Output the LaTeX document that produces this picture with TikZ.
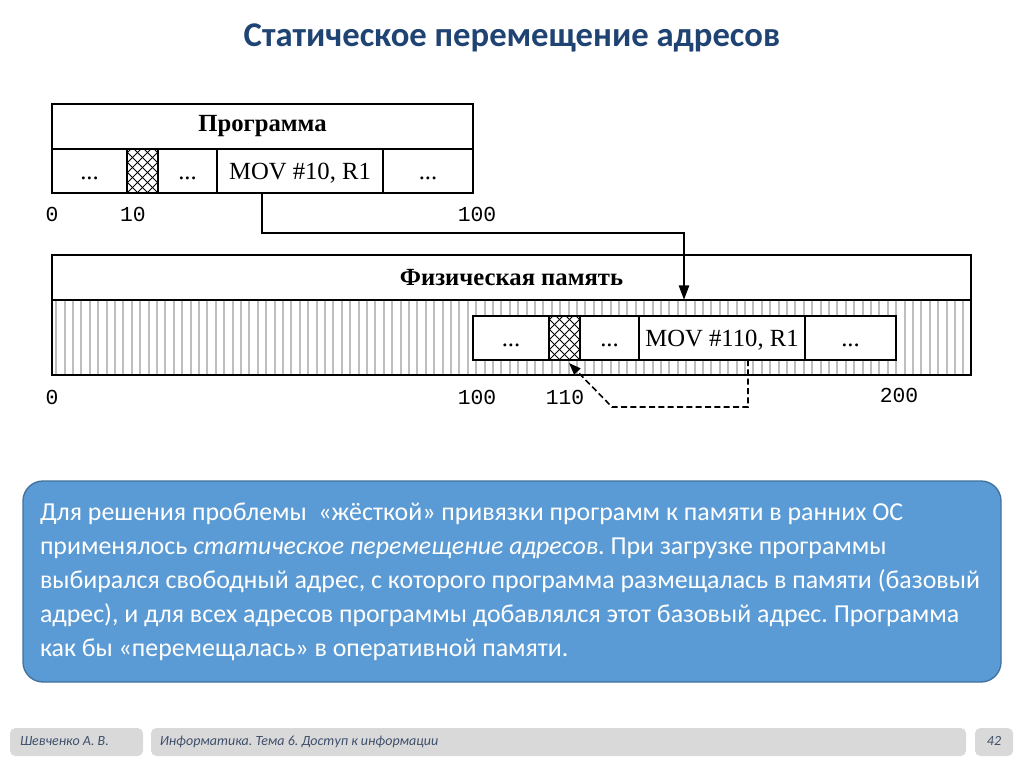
\documentclass[tikz,border=0pt]{standalone}
\usepackage{fontspec}
\setmainfont{Liberation Serif}
\newfontfamily\calibri{Carlito}
\newfontfamily\addrfont{Liberation Mono}
\usetikzlibrary{arrows.meta,positioning}
\newcommand{\upx}{*0.75pt}
\newcommand{\plainspaces}{\spaceskip=0pt\xspaceskip=0pt\frenchspacing}
\definecolor{titleblue}{HTML}{1F4372}
\definecolor{notefill}{HTML}{5B9BD5}
\definecolor{noteedge}{HTML}{41719C}
\definecolor{footfill}{HTML}{D9D9D9}
\definecolor{foottext}{HTML}{3F4F6B}
\definecolor{memgray}{HTML}{BEBEBE}
\tikzset{
  hdrbox/.style={draw, line width=1.5pt, fill=white, outer sep=0pt, inner sep=0pt, minimum height=45\upx, font=\bfseries\fontsize{18.5}{22}\selectfont},
  cell/.style={draw, line width=1.5pt, fill=white, outer sep=0pt, inner sep=0pt, minimum height=44\upx,
    text height=12.5pt, text depth=0pt, font=\fontsize{18.5}{22}\selectfont},
  hatchline/.style={line width=0.6pt},
  hatchcell/.style={cell, path picture={
      \foreach \k in {-8,...,8}{
        \draw[hatchline] ([xshift=\k*7.5pt]path picture bounding box.south west) -- ++(60,-60);
        \draw[hatchline] ([xshift=\k*7.5pt]path picture bounding box.south east) -- ++(-60,-60);
      }}},
  memline/.style={memgray, line width=1.6pt},
  addr/.style={inner sep=0pt, font=\addrfont\fontsize{16}{18}\selectfont},
  movearrow/.style={-{Triangle[length=11pt, width=7.5pt]}, line width=2pt},
  relocarrow/.style={-{Triangle[length=9pt, width=6.5pt]}, line width=1.2pt, dash pattern=on 4.5pt off 2.5pt},
  note/.style={draw=noteedge, line width=1pt, fill=notefill, rounded corners=15pt, text=white, align=left, text width=708pt,
    minimum width=978\upx, minimum height=201\upx, font=\calibri\fontsize{19.4}{25.5}\selectfont},
  footbox/.style={fill=footfill, rounded corners=4pt, minimum height=28\upx, inner sep=0pt, text height=7.5pt, text depth=2pt,
    text=foottext, font=\calibri\itshape\fontsize{10.5}{12}\selectfont}
}
\begin{document}
\begin{tikzpicture}[x=0.75pt, y=-0.75pt]
\useasboundingbox[fill=white] (0,0) rectangle (1024,767);

% title
\node[text=titleblue, font=\calibri\bfseries\fontsize{26}{30}\selectfont] (title) at (512,38) {Статическое перемещение адресов};

% program
\node[hdrbox, minimum width=421\upx] (prog) at (262.5,126.5) {Программа};
\node[cell, minimum width=75\upx] (c1) at (89.5,171) {...};
\node[hatchcell, minimum width=31\upx, right=0pt of c1] (c2) {};
\node[cell, minimum width=59\upx, right=0pt of c2] (c3) {...};
\node[cell, minimum width=166\upx, right=0pt of c3] (c4) {MOV \#10, R1};
\node[cell, minimum width=90\upx, right=0pt of c4] (c5) {...};
\node[addr] (p0) at (52,214) {0};
\node[addr] (p10) at (133,214) {10};
\node[addr] (p100) at (477,214) {100};

% physical memory
\node[hdrbox, minimum width=919\upx] (memhead) at (511.5,277.5) {Физическая память};
\node[hdrbox, minimum width=919\upx, minimum height=75\upx, below=0pt of memhead] (memcells) {};
\foreach \x in {56.2,64.6,...,968}
  \draw[memline] (\x,301.2) -- (\x,373.8);
\node[cell, minimum width=76\upx] (d1) at (511,338) {...};
\node[hatchcell, minimum width=31\upx, right=0pt of d1] (d2) {};
\node[cell, minimum width=59\upx, right=0pt of d2] (d3) {...};
\node[cell, minimum width=166\upx, right=0pt of d3] (d4) {MOV \#110, R1};
\node[cell, minimum width=91\upx, right=0pt of d4] (d5) {...};
\node[addr] (m0) at (52,397) {0};
\node[addr] (m100) at (477,397) {100};
\node[addr] (m110) at (565,397) {110};
\node[addr] (m200) at (899,395) {200};

% connectors
\draw[movearrow] (262,0 |- c4.south) -- (262,233) -| (684,0 |- memhead.south);
\draw[relocarrow] (748,0 |- d4.south) -- (748,407) -- (612,407) -- (569,363);

% note
\node[note] (note) at (512,581.5) {\plainspaces
\mbox{Для решения проблемы~ «жёсткой» привязки программ к памяти в ранних ОС}\\
\mbox{применялось \textit{статическое перемещение адресов}. При загрузке программы}\\
\mbox{выбирался свободный адрес, с которого программа размещалась в памяти (базовый}\\
\mbox{адрес), и для всех адресов программы добавлялся этот базовый адрес. Программа}\\
\mbox{как бы «перемещалась» в оперативной памяти.}};

% footer
\node[footbox, minimum width=133\upx, text width=84.75pt, align=left] (author) at (76.5,742) {\plainspaces Шевченко А. В.};
\node[footbox, minimum width=815\upx, text width=598pt, align=left] (topic) at (558.5,742) {\plainspaces Информатика. Тема 6. Доступ к информации};
\node[footbox, minimum width=38\upx] (page) at (994,742) {42};
\end{tikzpicture}
\end{document}
